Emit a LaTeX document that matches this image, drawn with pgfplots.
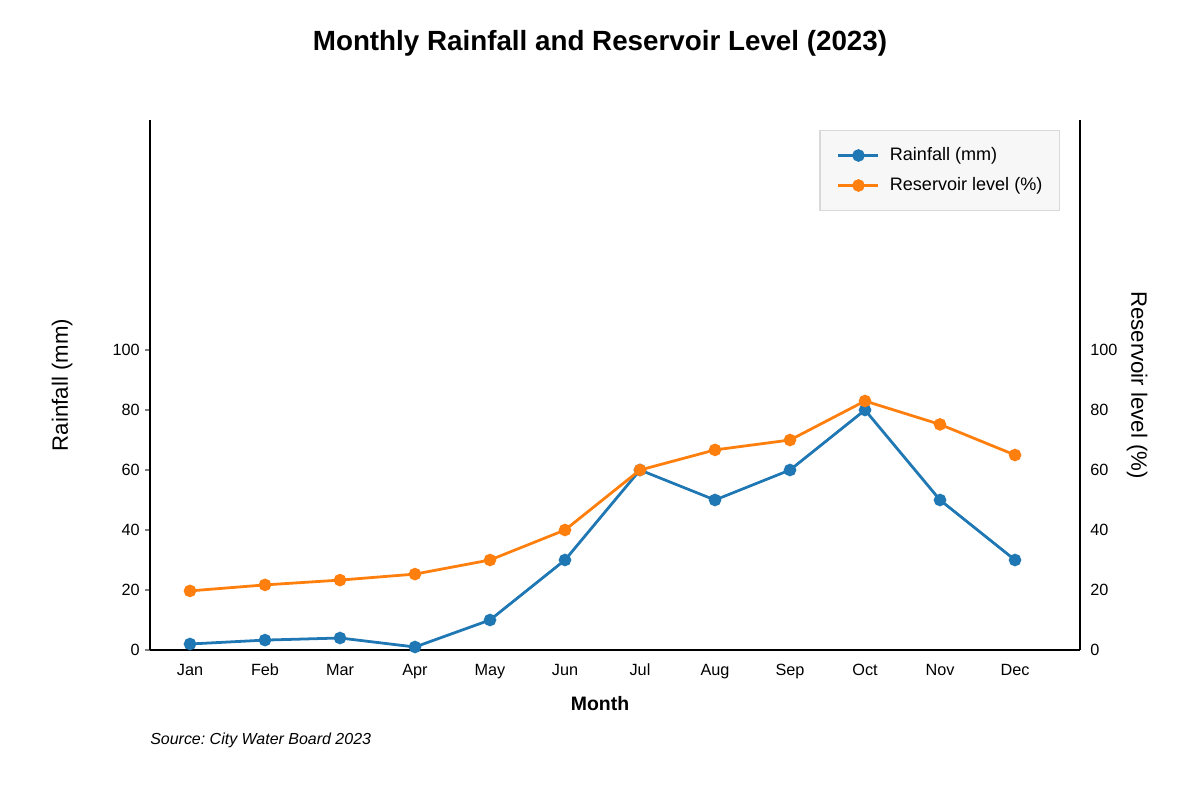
\documentclass[border=0pt]{standalone}
\usepackage{fontspec}
\setmainfont{Liberation Sans}
\usepackage{pgfplots}
\pgfplotsset{compat=1.18}
\frenchspacing
\definecolor{rfblue}{HTML}{1F77B4}
\definecolor{rforange}{HTML}{FF7F0E}
\pgfplotsset{
  common/.style={
    scale only axis, width=669.6bp, height=381.6bp,
    at={(108bp,108bp)}, anchor=south west,
    xmin=-0.5333, xmax=11.8667, ymin=0, ymax=176.67,
    ytick={0,20,40,60,80,100},
    clip=false,
    axis line style={line width=1.5bp, black},
    /pgf/number format/assume math mode=true,
    tick label style={font=\fontsize{11.7bp}{14bp}\selectfont},
    every axis plot/.append style={line width=2bp, mark=*, mark size=3.5bp, mark options={solid}},
    legend image code/.code={\draw[mark repeat=2,mark phase=2] plot coordinates {(0bp,0bp)(14.4bp,0bp)(28.8bp,0bp)};},
  }
}
\pgfplotstableread{
x rain res
0 2.0 19.7
1 3.3 21.7
2 4.0 23.3
3 1.0 25.3
4 10.0 30.0
5 30.0 40.0
6 60.0 60.0
7 50.0 66.7
8 60.0 70.0
9 80.0 83.0
10 50.0 75.2
11 30.0 65.0
}\datatable
\begin{document}
\begin{tikzpicture}
\useasboundingbox (0,0) rectangle (864bp,576bp);
\begin{axis}[common,
  axis y line*=left, axis x line*=bottom,
  xtick={0,1,2,3,4,5,6,7,8,9,10,11},
  xticklabels={Jan,Feb,Mar,Apr,May,Jun,Jul,Aug,Sep,Oct,Nov,Dec},
  xtick style={draw=none},
  xticklabel style={anchor=base, inner sep=0pt, yshift=-15.1bp},
  tick align=outside, major tick length=3.5bp,
  ytick style={draw=gray, line width=0.8bp},
  yticklabel style={anchor=east, inner sep=0pt, xshift=-3.7bp},
  title={Monthly Rainfall and Reservoir Level (2023)},
  every axis title/.style={at={(axis description cs:0.4839,1.1452)}, anchor=center, font=\bfseries\fontsize{20bp}{24bp}\selectfont},
  xlabel={Month},
  every axis x label/.style={at={(axis description cs:0.4839,-0.1019)}, anchor=center, font=\bfseries\fontsize{14bp}{17bp}\selectfont},
  ylabel={Rainfall (mm)},
  every axis y label/.style={at={(axis description cs:-0.0946,0.5)}, anchor=center, rotate=90, font=\fontsize{16bp}{19bp}\selectfont},
]
\addplot[color=rfblue] table[x=x, y=rain] {\datatable};
\node[anchor=west, inner sep=0pt, font=\itshape\fontsize{11.5bp}{14bp}\selectfont] at (axis description cs:0,-0.1698) {Source: City Water Board 2023};
\end{axis}
\begin{axis}[common,
  axis y line*=right, axis x line=none,
  ytick style={draw=none},
  yticklabel style={anchor=west, inner sep=0pt, xshift=7.2bp},
  ylabel={Reservoir level (\%)},
  every axis y label/.style={at={(axis description cs:1.0613,0.5)}, anchor=center, rotate=-90, font=\fontsize{16bp}{19bp}\selectfont},
  legend cell align=left,
  legend style={at={(axis description cs:0.9785,0.9811)}, anchor=north east,
    draw=black!15, fill=black!3, line width=0.8bp,
    inner xsep=12.3bp, inner ysep=11.8bp,
    row sep=9.3bp,
    nodes={inner sep=0pt, text height=9.5bp, text depth=2.8bp},
    /tikz/every odd column/.append style={column sep=7.2bp},
    font=\fontsize{13bp}{16bp}\selectfont},
]
\addlegendimage{color=rfblue, line width=2bp, mark=*, mark size=3.5bp}
\addlegendentry{Rainfall (mm)}
\addplot[color=rforange] table[x=x, y=res] {\datatable};
\addlegendentry{Reservoir level (\%)}
\end{axis}
\end{tikzpicture}
\end{document}
